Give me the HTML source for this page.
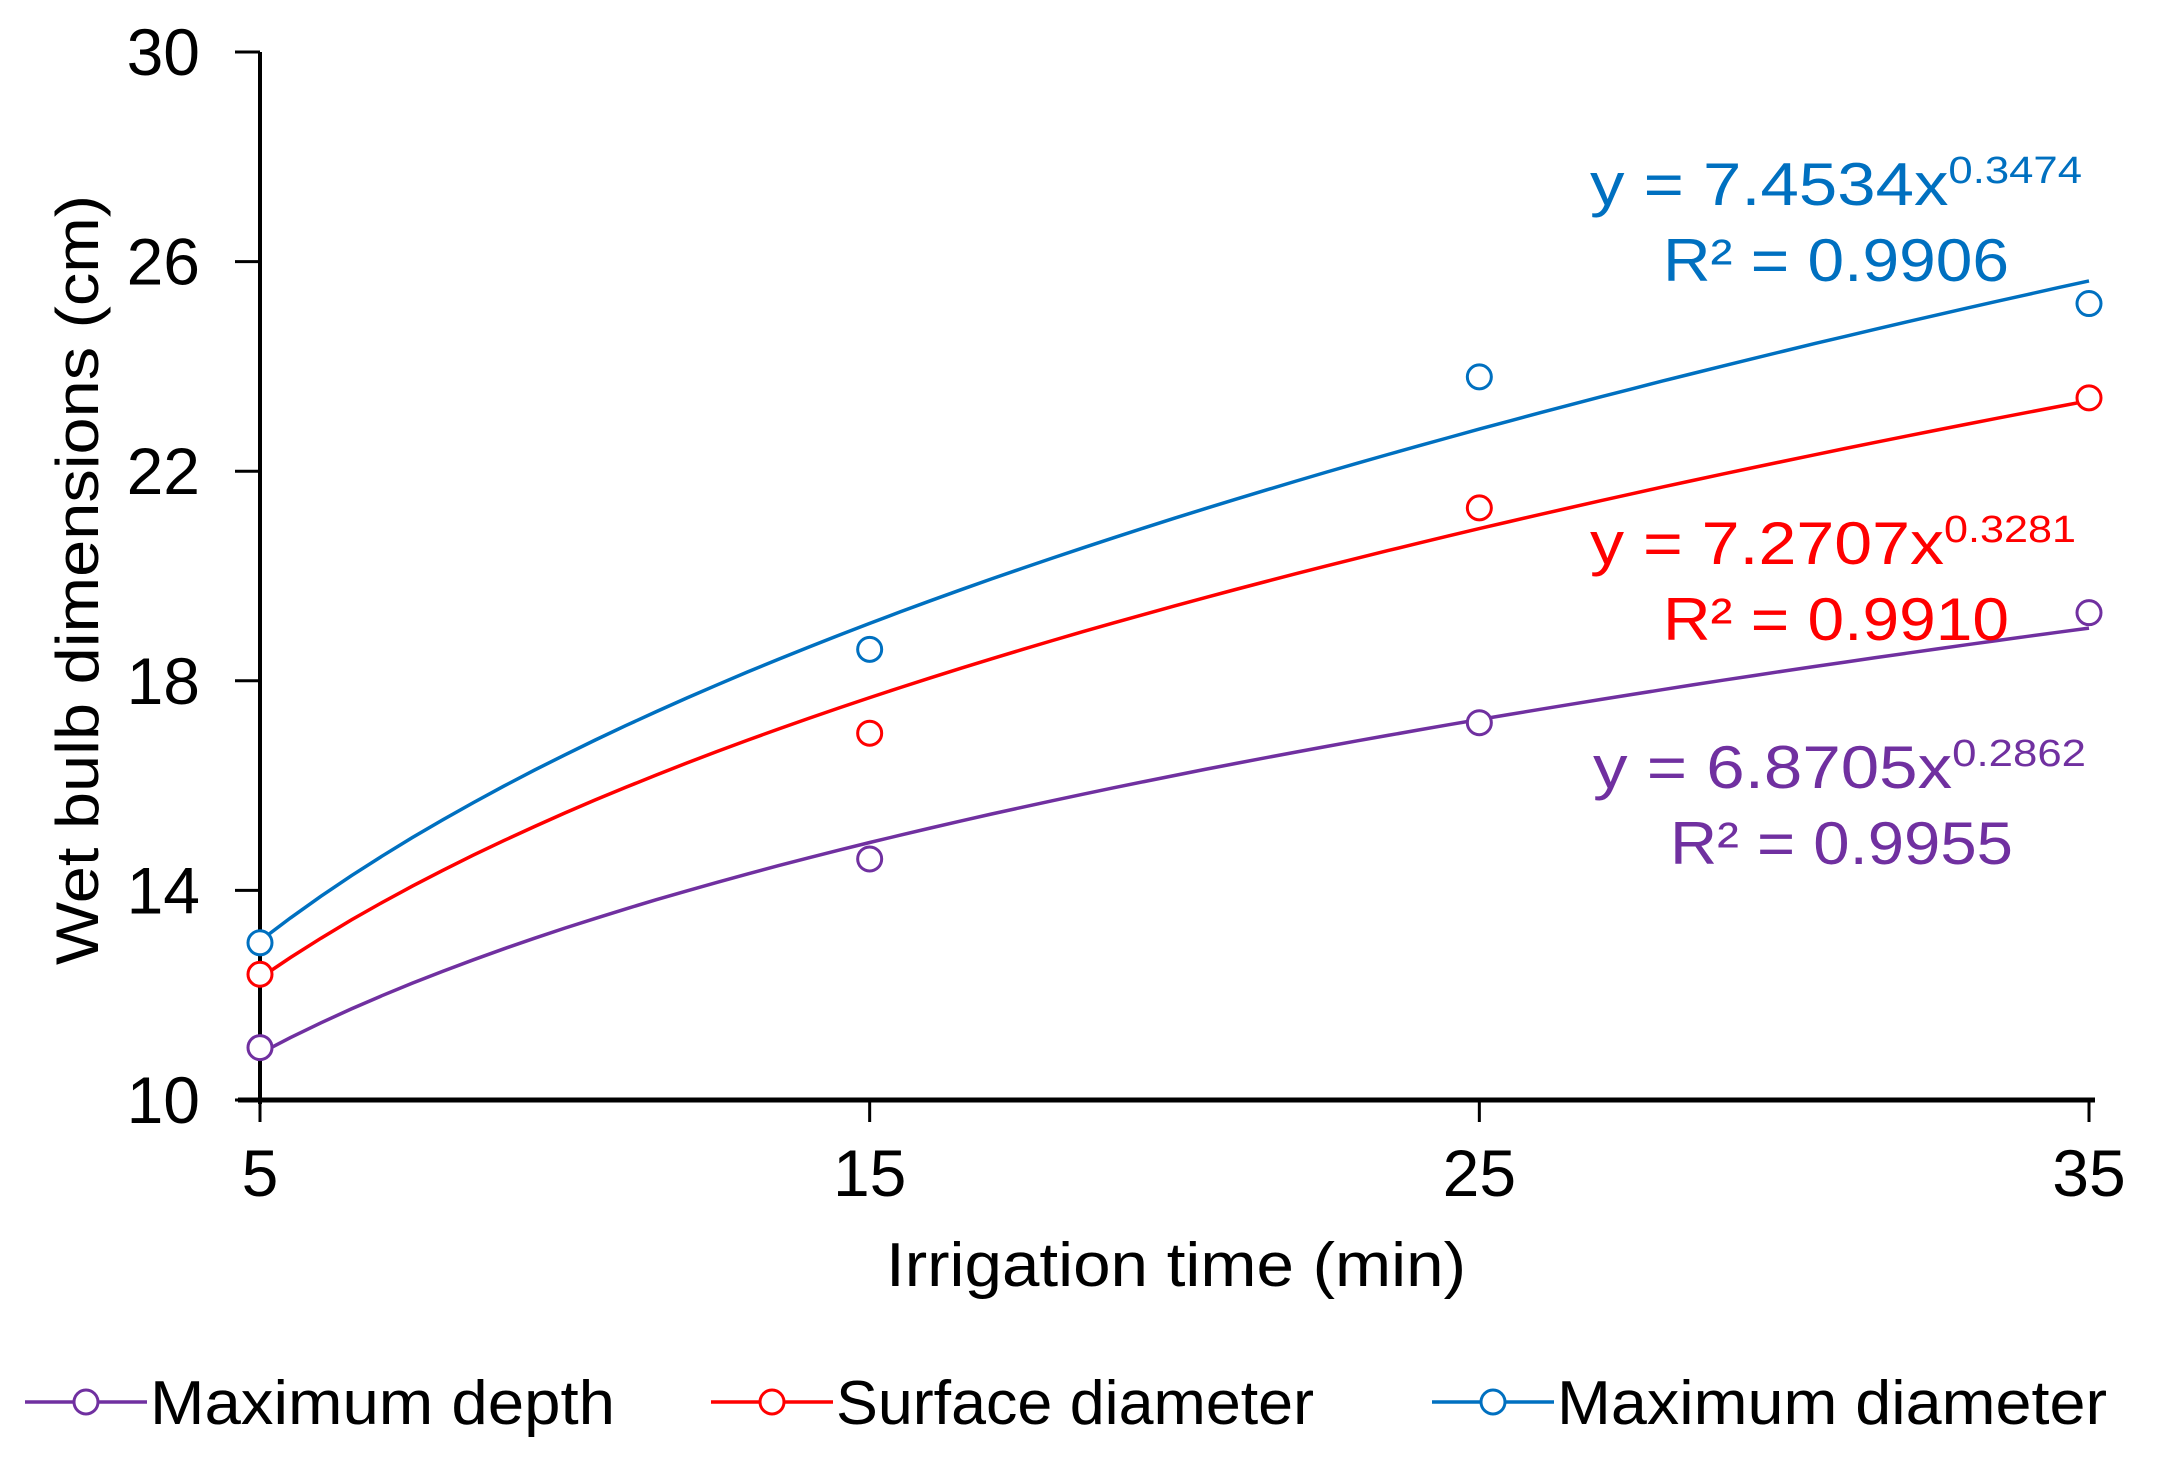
<!DOCTYPE html>
<html><head><meta charset="utf-8"><style>
html,body{margin:0;padding:0;background:#fff;}
svg{display:block;font-family:"Liberation Sans",Arial,sans-serif;}
</style></head><body>
<svg id="chart" width="2171" height="1462" viewBox="0 0 2171 1462" xmlns="http://www.w3.org/2000/svg">
<g id="axes"></g>
<g id="series"></g>
<text transform="translate(82,580) rotate(-90)" text-anchor="middle" font-size="60" textLength="770" lengthAdjust="spacingAndGlyphs" dominant-baseline="middle">Wet bulb dimensions (cm)</text>
<text x="1176" y="1286" text-anchor="middle" font-size="62" textLength="580" lengthAdjust="spacingAndGlyphs">Irrigation time (min)</text>
<g fill="#0070c0" font-size="60">
<text x="1590" y="205" textLength="492" lengthAdjust="spacingAndGlyphs">y = 7.4534x<tspan font-size="38" dy="-22">0.3474</tspan></text>
<text x="1663" y="281" textLength="346" lengthAdjust="spacingAndGlyphs">R² = 0.9906</text>
</g>
<g fill="#ff0000" font-size="60">
<text x="1590" y="564" textLength="486" lengthAdjust="spacingAndGlyphs">y = 7.2707x<tspan font-size="38" dy="-22">0.3281</tspan></text>
<text x="1663" y="640" textLength="346" lengthAdjust="spacingAndGlyphs">R² = 0.9910</text>
</g>
<g fill="#7030a0" font-size="60">
<text x="1593" y="788" textLength="493" lengthAdjust="spacingAndGlyphs">y = 6.8705x<tspan font-size="38" dy="-22">0.2862</tspan></text>
<text x="1670" y="864" textLength="343" lengthAdjust="spacingAndGlyphs">R² = 0.9955</text>
</g>
<g id="legend" font-size="62"></g>
<script>
const categories = [5, 15, 25, 35];
const seriesNames = ["Maximum depth", "Surface diameter", "Maximum diameter"];
const depthValues = [11.0, 14.6, 17.2, 19.3];
const surfaceValues = [12.4, 17.0, 21.3, 23.4];
const diameterValues = [13.0, 18.6, 23.8, 25.2];
const trendA = [6.8705, 7.2707, 7.4534];
const trendB = [0.2862, 0.3281, 0.3474];
const yTicks = [10, 14, 18, 22, 26, 30];
const xTicks = [5, 15, 25, 35];

const colors = ["#7030a0", "#ff0000", "#0070c0"];
const allValues = [depthValues, surfaceValues, diameterValues];
const NS = "http://www.w3.org/2000/svg";
const X0 = 260, X1 = 2089, Y0 = 1100, Y1 = 52;
function xs(v){ return X0 + (v - 5) / 30 * (X1 - X0); }
function ys(v){ return Y0 - (v - 10) / 20 * (Y0 - Y1); }
function mk(tag, attrs, parent){ const e = document.createElementNS(NS, tag); for (const k in attrs) e.setAttribute(k, attrs[k]); parent.appendChild(e); return e; }

const axes = document.getElementById("axes");
const yAxis = mk("line", {x1:X0, y1:Y1, x2:X0, y2:Y0+4, stroke:"#000", "stroke-width":4}, axes);


const xAxis = mk("line", {x1:X0-22, y1:Y0, x2:X1+6, y2:Y0, stroke:"#000", "stroke-width":5}, axes);


yTicks.forEach(t => {
  const tk = mk("line", {x1:X0-25, y1:ys(t), x2:X0, y2:ys(t), stroke:"#000", "stroke-width":3}, axes);
  
  
  const lb = mk("text", {x:200, y:ys(t)+23, "text-anchor":"end", "font-size":66}, axes);
  lb.textContent = t;
  
  
});
xTicks.forEach(t => {
  const tk = mk("line", {x1:xs(t), y1:Y0, x2:xs(t), y2:Y0+22, stroke:"#000", "stroke-width":3}, axes);
  
  
  const lb = mk("text", {x:xs(t), y:1196, "text-anchor":"middle", "font-size":66}, axes);
  lb.textContent = t;
  
  
});

const series = document.getElementById("series");
allValues.forEach((vals, i) => {
  let d = "";
  for (let k = 0; k <= 60; k++) {
    const xv = 5 + k * 0.5;
    const yv = trendA[i] * Math.pow(xv, trendB[i]);
    d += (k ? "L" : "M") + xs(xv).toFixed(1) + "," + ys(yv).toFixed(1);
  }
  const tl = mk("path", {d:d, fill:"none", stroke:colors[i], "stroke-width":3.5}, series);
  
  
  vals.forEach((v, j) => {
    const c = mk("circle", {cx:xs(categories[j]), cy:ys(v), r:12, fill:"#fff", stroke:colors[i], "stroke-width":3}, series);
    
    
  });
});

const legend = document.getElementById("legend");
const legX = [25, 711, 1432];
const legW = [465, 478, 550];
seriesNames.forEach((n, i) => {
  const ln = mk("line", {x1:legX[i], y1:1402, x2:legX[i]+122, y2:1402, stroke:colors[i], "stroke-width":3.5}, legend);
  
  
  const c = mk("circle", {cx:legX[i]+61, cy:1402, r:12, fill:"#fff", stroke:colors[i], "stroke-width":3}, legend);
  
  
  const t = mk("text", {x:legX[i]+125, y:1424, textLength:legW[i], lengthAdjust:"spacingAndGlyphs"}, legend);
  t.textContent = n;
  
  
});
</script>
</svg>
</body></html>
